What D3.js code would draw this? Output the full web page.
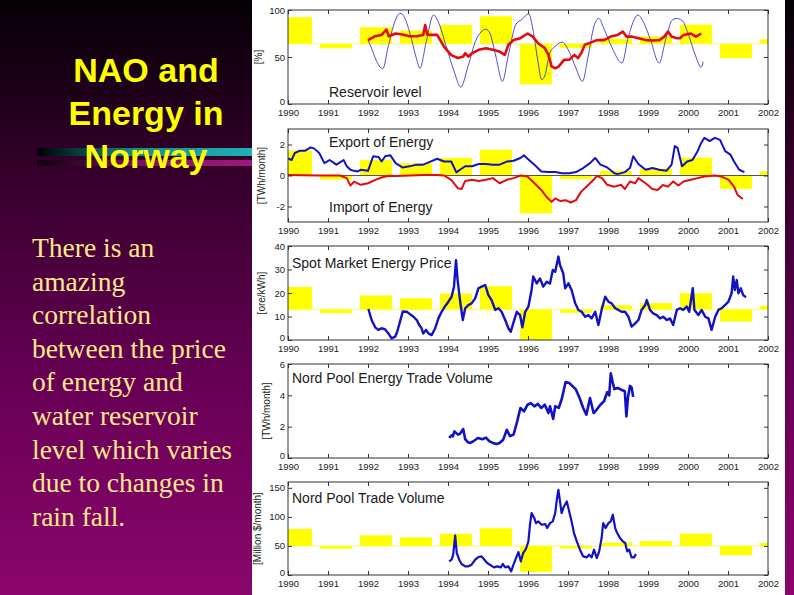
<!DOCTYPE html>
<html>
<head>
<meta charset="utf-8">
<script src="https://cdn.jsdelivr.net/npm/d3@7"></script>
<style>
  html, body { margin: 0; padding: 0; background: #000; }
  svg { display: block; }
</style>
</head>
<body>
<script>
/*
Data.
*/
const yearTicks = [1990, 1991, 1992, 1993, 1994, 1995, 1996, 1997, 1998, 1999, 2000, 2001, 2002];

// winter NAO index, one bar per year (same shape in every panel)
const naoIndex = [2.67, -0.43, 1.67, 1.33, 1.9, 2.77, -4.07, -0.4, 0.5, 0.75, 1.93, -1.43, 0.45];

const titleLines = ["NAO and", "Energy in", "Norway"];
const bodyLines = ["There is an", "amazing", "correlation", "between the price",
  "of energy and", "water reservoir", "level which varies", "due to changes in", "rain fall."];

// reservoir level [%], seasonal curve
const reservoirLevel = [
  [1992.0,68],[1992.1,58],[1992.2,47],[1992.37,37.5],[1992.5,60],[1992.65,85],[1992.8,96.5],[1992.9,93],
  [1993.05,75],[1993.2,50],[1993.3,38],[1993.45,65],[1993.64,94.7],[1993.75,88],[1993.95,62],[1994.15,35],
  [1994.32,18],[1994.5,40],[1994.7,68],[1994.95,79.5],[1995.05,75],[1995.2,50],[1995.36,24],[1995.5,50],
  [1995.7,85],[1995.85,90],[1996.02,96],[1996.12,80],[1996.25,45],[1996.34,26],[1996.42,30],[1996.55,55],
  [1996.7,62],[1996.86,66],[1997.0,58],[1997.2,38],[1997.36,24],[1997.5,50],[1997.65,83],[1997.77,91],
  [1997.9,80],[1998.1,60],[1998.35,43.5],[1998.5,70],[1998.75,94.7],[1998.85,90],[1999.05,70],[1999.28,43.5],
  [1999.45,70],[1999.6,89],[1999.7,91],[1999.85,89],[2000.0,75],[2000.2,50],[2000.33,39],[2000.38,45]
];

// reservoir level [%], running mean
const reservoirMean = [
  [1992.0,68],[1992.17,72],[1992.34,73.5],[1992.46,79],[1992.52,72],[1992.69,75],[1992.86,74],[1993.04,72],
  [1993.21,72],[1993.38,73.5],[1993.43,84],[1993.48,74],[1993.56,73.5],[1993.73,73.5],[1993.9,61],[1994.08,52],
  [1994.25,49],[1994.38,50.5],[1994.43,54],[1994.51,50.5],[1994.6,54],[1994.77,57.6],[1994.95,59.4],[1995.12,57.6],
  [1995.29,55.8],[1995.42,52.3],[1995.51,63],[1995.64,68],[1995.81,70],[1995.99,75],[1996.12,71.7],[1996.25,64.7],
  [1996.42,59.4],[1996.51,52.3],[1996.59,40],[1996.68,38],[1996.77,40],[1996.9,47],[1997.03,47],[1997.16,52.3],
  [1997.25,48.8],[1997.33,54],[1997.42,63],[1997.55,65],[1997.72,68],[1997.9,68],[1998.07,71.7],[1998.24,73.5],
  [1998.37,77],[1998.46,71.7],[1998.59,71.7],[1998.76,70],[1998.94,68],[1999.11,67.5],[1999.28,68],[1999.41,71.7],
  [1999.5,77],[1999.59,71.7],[1999.72,70],[1999.8,70],[1999.89,73.5],[2000.07,75],[2000.2,71.7],[2000.33,75]
];

// export of energy [TWh/month]
const exportEnergy = [
  [1990.0,1.1],[1990.09,1.0],[1990.17,1.45],[1990.3,1.6],[1990.43,1.6],[1990.56,1.8],[1990.65,1.75],[1990.78,1.45],
  [1990.91,0.8],[1991.04,1.0],[1991.13,0.85],[1991.21,0.7],[1991.3,0.85],[1991.39,1.0],[1991.47,0.6],[1991.56,0.37],
  [1991.65,0.3],[1991.74,0.26],[1991.82,0.37],[1992.0,0.3],[1992.13,1.24],[1992.26,1.2],[1992.34,0.9],[1992.43,1.24],
  [1992.56,1.3],[1992.69,0.8],[1992.86,0.52],[1993.04,0.59],[1993.21,0.7],[1993.38,0.7],[1993.56,0.9],[1993.73,1.08],
  [1993.9,0.9],[1994.08,0.9],[1994.21,0.2],[1994.3,0.37],[1994.43,0.6],[1994.6,0.6],[1994.77,0.74],[1994.95,0.74],
  [1995.12,0.7],[1995.29,0.7],[1995.47,0.9],[1995.64,0.95],[1995.81,1.13],[1995.9,1.3],[1995.99,1.08],[1996.16,0.7],
  [1996.33,0.26],[1996.51,0.22],[1996.68,0.22],[1996.85,0.15],[1997.03,0.15],[1997.2,0.22],[1997.38,0.48],[1997.55,0.8],
  [1997.68,1.13],[1997.81,0.7],[1997.98,0.52],[1998.16,0.15],[1998.24,0.09],[1998.42,0.22],[1998.55,0.48],[1998.63,1.24],
  [1998.76,0.74],[1998.94,0.37],[1999.11,0.48],[1999.28,0.37],[1999.46,0.3],[1999.59,0.7],[1999.67,1.9],[1999.74,1.78],
  [1999.85,0.59],[1999.98,0.9],[2000.11,1.0],[2000.24,1.57],[2000.33,2.1],[2000.41,2.43],[2000.54,2.22],[2000.67,2.43],
  [2000.8,2.3],[2000.93,1.57],[2001.06,1.35],[2001.15,0.9],[2001.28,0.37],[2001.41,0.22]
];

// import of energy [TWh/month], drawn negative
const importEnergy = [
  [1990.0,0.04],[1990.78,0.0],[1991.3,0.0],[1991.47,-0.17],[1991.56,-0.65],[1991.65,-0.4],[1991.82,-0.6],[1992.0,-0.5],
  [1992.17,-0.3],[1992.34,-0.13],[1992.52,-0.02],[1992.69,-0.04],[1993.04,0.0],[1993.38,0.04],[1993.73,0.04],[1993.9,0.0],
  [1994.08,-0.28],[1994.25,-0.83],[1994.34,-0.87],[1994.43,-0.35],[1994.6,-0.28],[1994.77,-0.35],[1994.95,-0.28],[1995.12,-0.17],
  [1995.29,-0.5],[1995.47,-0.28],[1995.64,-0.17],[1995.81,0.0],[1995.99,-0.07],[1996.07,-0.28],[1996.2,-0.6],[1996.33,-0.93],
  [1996.46,-1.37],[1996.59,-1.7],[1996.68,-1.48],[1996.81,-1.65],[1996.94,-1.59],[1997.07,-1.74],[1997.2,-1.59],[1997.33,-1.04],
  [1997.46,-0.72],[1997.64,-0.28],[1997.72,-0.02],[1997.85,-0.17],[1997.98,-0.6],[1998.16,-0.72],[1998.33,-0.6],[1998.42,-0.87],
  [1998.55,-0.39],[1998.68,-0.5],[1998.76,-0.17],[1998.94,-0.5],[1999.11,-0.87],[1999.24,-0.93],[1999.37,-0.61],[1999.5,-0.72],
  [1999.63,-0.39],[1999.76,-0.65],[1999.89,-0.39],[2000.07,-0.28],[2000.24,-0.17],[2000.41,-0.07],[2000.67,0.0],[2000.84,-0.07],
  [2001.02,-0.28],[2001.15,-0.72],[2001.24,-1.26],[2001.37,-1.52]
];

// spot market price [ore/kWh]
const spotPrice = [
  [1992.01,13.2],[1992.09,8.5],[1992.18,5.4],[1992.26,4.3],[1992.34,5.0],[1992.43,4.5],[1992.51,2.8],[1992.59,0.7],
  [1992.68,1.4],[1992.73,3.5],[1992.8,7.8],[1992.87,12.1],[1992.97,12],[1993.05,11],[1993.13,10],[1993.22,8.5],
  [1993.28,6.4],[1993.34,5],[1993.38,2.8],[1993.45,4.3],[1993.51,2.8],[1993.59,2.1],[1993.68,5],[1993.76,9.2],
  [1993.84,12],[1993.92,14.2],[1994.01,16.3],[1994.09,18.4],[1994.15,22.7],[1994.2,34],[1994.24,25.5],[1994.3,17],
  [1994.37,8.5],[1994.43,13.5],[1994.51,14.9],[1994.59,15.6],[1994.68,17.7],[1994.76,22],[1994.84,22.7],[1994.93,23.4],
  [1995.01,19.1],[1995.09,17],[1995.18,12.8],[1995.26,13.5],[1995.34,12],[1995.43,8.5],[1995.51,5],[1995.57,3.5],
  [1995.63,7.1],[1995.72,12],[1995.8,10.6],[1995.86,5.4],[1995.93,12],[1996.01,14.2],[1996.09,21.3],[1996.13,27],
  [1996.22,24.1],[1996.3,26.2],[1996.38,22.7],[1996.47,24.8],[1996.55,24],[1996.62,29.8],[1996.68,29],[1996.76,35.5],
  [1996.8,31.9],[1996.88,28.4],[1996.93,22],[1997.01,24.1],[1997.09,21.3],[1997.18,15.6],[1997.26,12.8],[1997.34,12],
  [1997.43,9.9],[1997.51,10.6],[1997.59,9.2],[1997.68,12],[1997.76,6.4],[1997.84,12.8],[1997.93,18.4],[1998.01,16.3],
  [1998.09,15.6],[1998.18,13.5],[1998.26,12.8],[1998.34,12],[1998.43,12],[1998.51,9.9],[1998.59,5.7],[1998.68,7.1],
  [1998.76,8.5],[1998.84,12.8],[1998.93,14.9],[1998.97,17],[1999.05,12.8],[1999.13,11.3],[1999.22,10.6],[1999.3,9.2],
  [1999.38,9.9],[1999.47,8.5],[1999.55,9.2],[1999.63,6.4],[1999.72,12.8],[1999.8,13.5],[1999.88,12.8],[1999.97,14.2],
  [2000.03,12],[2000.12,22],[2000.16,12.8],[2000.26,10.6],[2000.34,12.8],[2000.43,9.9],[2000.51,9.2],[2000.59,4.3],
  [2000.68,9.9],[2000.76,12.8],[2000.84,13.5],[2000.93,14.9],[2001.01,16.3],[2001.09,19.9],[2001.13,27],[2001.17,21.3],
  [2001.22,25.5],[2001.26,19.9],[2001.32,22],[2001.38,19.1],[2001.45,18.2]
];

// Nord Pool energy trade volume [TWh/month]
const tradeVolumeTWh = [
  [1994.03,1.28],[1994.09,1.45],[1994.12,1.38],[1994.16,1.7],[1994.25,1.49],[1994.3,1.55],[1994.38,1.85],[1994.43,1.2],
  [1994.5,1.0],[1994.56,0.96],[1994.65,1.1],[1994.75,1.28],[1994.86,1.2],[1994.95,1.3],[1995.03,1.08],[1995.12,0.96],
  [1995.21,0.89],[1995.29,0.96],[1995.38,1.17],[1995.47,1.8],[1995.55,1.4],[1995.64,1.5],[1995.73,2.34],[1995.81,3.19],
  [1995.9,2.98],[1995.99,3.4],[1996.07,3.5],[1996.16,3.3],[1996.25,3.45],[1996.33,3.19],[1996.42,3.4],[1996.51,2.87],
  [1996.55,3.3],[1996.63,2.5],[1996.68,3.3],[1996.77,3.2],[1996.85,3.83],[1996.94,4.85],[1997.03,4.79],[1997.12,4.57],
  [1997.2,4.36],[1997.29,3.83],[1997.38,3.19],[1997.46,2.77],[1997.55,3.83],[1997.64,2.87],[1997.72,3.09],[1997.81,3.4],
  [1997.9,3.62],[1997.98,4.2],[1998.03,4.0],[1998.07,5.4],[1998.12,4.8],[1998.16,4.4],[1998.24,4.47],[1998.33,4.36],
  [1998.42,4.26],[1998.46,2.65],[1998.5,3.9],[1998.55,4.6],[1998.59,4.5],[1998.63,3.9]
];

// Nord Pool trade volume [Million $/month]
const tradeVolumeUSD = [
  [1994.03,23.5],[1994.09,26.3],[1994.13,35],[1994.18,68],[1994.22,37.8],[1994.28,26.3],[1994.34,18.9],[1994.43,14.9],
  [1994.51,14.9],[1994.59,17.8],[1994.68,26.3],[1994.76,30.9],[1994.84,32],[1994.91,26.3],[1994.98,20.6],[1995.07,16.6],
  [1995.15,13.2],[1995.23,14.9],[1995.32,13.2],[1995.37,18.9],[1995.43,13.2],[1995.51,14.9],[1995.58,6.3],[1995.63,16.6],
  [1995.7,29.2],[1995.76,39.5],[1995.82,23.5],[1995.88,37.8],[1995.95,45.2],[1996.01,57.8],[1996.05,86.5],[1996.09,106.5],
  [1996.15,99],[1996.2,89.3],[1996.26,92.2],[1996.34,86.5],[1996.43,87.6],[1996.48,80.8],[1996.55,89.3],[1996.62,92.2],
  [1996.68,106.5],[1996.72,129.4],[1996.76,146.6],[1996.8,126.6],[1996.84,106.5],[1996.9,118],[1996.97,126.6],[1997.03,109.4],
  [1997.09,92.2],[1997.15,72.2],[1997.22,57.8],[1997.3,43.5],[1997.38,32],[1997.47,30.4],[1997.53,35],[1997.59,30.4],
  [1997.65,43.5],[1997.72,29.2],[1997.78,40.7],[1997.84,63.6],[1997.88,89.3],[1997.94,80.8],[1998.01,89.3],[1998.07,92.2],
  [1998.12,103.7],[1998.18,80.8],[1998.23,72.2],[1998.3,63.6],[1998.37,57.8],[1998.43,55],[1998.48,40.7],[1998.53,43.5],
  [1998.59,30.4],[1998.65,30.4],[1998.7,36]
];

const BLUE = "#1212c4";
const RED = "#e30b0b";

/*
Panel layout: pixel box, value range, NAO bar scaling, series and labels.
*/
const panels = [
  { top: 10, bottom: 104, domain: [0, 100], yTicks: [0, 50, 100], unit: "[%]", unitX: 262,
    bars: { baseline: 64, perIndex: 10.6 },
    series: [
      { data: reservoirLevel, color: "#3a3ad0", width: 0.9, curve: d3.curveMonotoneX },
      { data: reservoirMean, color: RED, width: 2.6 }
    ],
    titles: [{ text: "Reservoir level", x: 329, y: 97 }] },
  { top: 129, bottom: 222, domain: [-3, 3], yTicks: [-2, 0, 2], unit: "[TWh/month]", unitX: 265,
    bars: { baseline: 0, perIndex: 0.6 }, zeroLine: true,
    series: [
      { data: exportEnergy, color: BLUE, width: 2 },
      { data: importEnergy, color: RED, width: 2 }
    ],
    titles: [{ text: "Export of Energy", x: 329, y: 147 }, { text: "Import of Energy", x: 329, y: 212 }] },
  { top: 246, bottom: 340, domain: [0, 40], yTicks: [0, 10, 20, 30, 40], unit: "[ore/kWh]", unitX: 265,
    bars: { baseline: 13, perIndex: 3.57 },
    series: [{ data: spotPrice, color: BLUE, width: 2.4 }],
    titles: [{ text: "Spot Market Energy Price", x: 292, y: 268 }] },
  { top: 364, bottom: 458, domain: [0, 6], yTicks: [0, 2, 4, 6], unit: "[TWh/month]", unitX: 270,
    bars: null,
    series: [{ data: tradeVolumeTWh, color: BLUE, width: 2.6 }],
    titles: [{ text: "Nord Pool Energy Trade Volume", x: 292, y: 383 }] },
  { top: 482, bottom: 575, domain: [0, 160], yTicks: [0, 50, 100, 150], unit: "[Million $/month]", unitX: 261,
    bars: { baseline: 50, perIndex: 11 },
    series: [{ data: tradeVolumeUSD, color: BLUE, width: 2.2 }],
    titles: [{ text: "Nord Pool Trade Volume", x: 292, y: 503 }] }
];

const width = 794;
const height = 595;

const svg = d3.select("body").append("svg")
    .attr("width", width)
    .attr("height", height);

const defs = svg.append("defs");

// slide background: black at top fading into purple
const bg = defs.append("linearGradient").attr("id", "bg")
    .attr("x1", 0).attr("y1", 0).attr("x2", 0).attr("y2", 1);
bg.append("stop").attr("offset", 0).attr("stop-color", "#040004");
bg.append("stop").attr("offset", 0.3).attr("stop-color", "#36002c");
bg.append("stop").attr("offset", 0.65).attr("stop-color", "#680056");
bg.append("stop").attr("offset", 1).attr("stop-color", "#8a066c");

const teal = defs.append("linearGradient").attr("id", "teal");
teal.append("stop").attr("offset", 0).attr("stop-color", "#000000");
teal.append("stop").attr("offset", 0.45).attr("stop-color", "#168a90");
teal.append("stop").attr("offset", 1).attr("stop-color", "#1fb0b4");

const mag = defs.append("linearGradient").attr("id", "mag");
mag.append("stop").attr("offset", 0).attr("stop-color", "#10000c");
mag.append("stop").attr("offset", 0.5).attr("stop-color", "#801066");
mag.append("stop").attr("offset", 1).attr("stop-color", "#a0187e");

svg.append("rect").attr("width", width).attr("height", height).attr("fill", "url(#bg)");

// decorative bars behind the title
svg.append("rect").attr("x", 37).attr("y", 148).attr("width", 215).attr("height", 8).attr("fill", "url(#teal)");
svg.append("rect").attr("x", 37).attr("y", 160).attr("width", 215).attr("height", 6).attr("fill", "url(#mag)");

svg.append("g")
    .selectAll("text")
    .data(titleLines)
    .join("text")
        .attr("x", 146)
        .attr("y", (d, i) => 82 + i * 43)
        .attr("text-anchor", "middle")
        .attr("font-family", "'Liberation Sans', Arial, sans-serif")
        .attr("font-weight", "bold")
        .attr("font-size", 34)
        .attr("fill", "#ffff00")
        .text(d => d);

svg.append("g")
    .selectAll("text")
    .data(bodyLines)
    .join("text")
        .attr("x", 32)
        .attr("y", (d, i) => 257 + i * 33.6)
        .attr("font-family", "'Liberation Serif', 'Times New Roman', serif")
        .attr("font-size", 27.5)
        .attr("fill", "#ffe98a")
        .text(d => d);

// white figure area
svg.append("rect").attr("x", 252).attr("y", 0).attr("width", 533).attr("height", height).attr("fill", "#fff");

const x = d3.scaleLinear().domain([1990, 2002]).range([288, 768]);
const FONT = "'Liberation Sans', Helvetica, Arial, sans-serif";

panels.forEach((p, i) => {
    const y = d3.scaleLinear().domain(p.domain).range([p.bottom, p.top]);
    const g = svg.append("g");

    defs.append("clipPath").attr("id", "clip" + i)
        .append("rect")
            .attr("x", x(1990)).attr("y", p.top)
            .attr("width", x(2002) - x(1990)).attr("height", p.bottom - p.top);

    const plot = g.append("g").attr("clip-path", `url(#clip${i})`);

    // NAO bars round a baseline
    if (p.bars) {
        const b = p.bars;
        plot.append("line")
            .attr("x1", x(1990)).attr("x2", x(2002))
            .attr("y1", y(b.baseline)).attr("y2", y(b.baseline))
            .attr("stroke", "#fbfb9c").attr("stroke-width", 1.5);

        plot.append("g")
            .selectAll("rect")
            .data(naoIndex)
            .join("rect")
                .attr("x", (d, k) => x(Math.max(1990, yearTicks[k] - 0.2)))
                .attr("width", (d, k) => x(Math.min(2002, yearTicks[k] + 0.6)) - x(Math.max(1990, yearTicks[k] - 0.2)))
                .attr("y", d => Math.min(y(b.baseline), y(b.baseline + d * b.perIndex)))
                .attr("height", d => Math.abs(y(b.baseline + d * b.perIndex) - y(b.baseline)))
                .attr("fill", "#ffff00");
    }

    if (p.zeroLine) {
        plot.append("line")
            .attr("x1", x(1990)).attr("x2", x(2002))
            .attr("y1", y(0)).attr("y2", y(0))
            .attr("stroke", "#555").attr("stroke-width", 1);
    }

    // data lines
    p.series.forEach(s => {
        const line = d3.line()
            .x(d => x(d[0]))
            .y(d => y(d[1]))
            .curve(s.curve || d3.curveLinear);
        plot.append("path")
            .datum(s.data)
            .attr("d", line)
            .attr("fill", "none")
            .attr("stroke", s.color)
            .attr("stroke-width", s.width)
            .attr("stroke-linejoin", "round");
    });

    // frame with inward ticks on all four sides
    g.append("rect")
        .attr("x", x(1990)).attr("y", p.top)
        .attr("width", x(2002) - x(1990)).attr("height", p.bottom - p.top)
        .attr("fill", "none").attr("stroke", "#333").attr("stroke-width", 1);

    g.append("g").attr("transform", `translate(0,${p.bottom})`)
        .call(d3.axisBottom(x).tickValues(yearTicks).tickFormat(d3.format("d"))
            .tickSizeInner(-4).tickSizeOuter(0).tickPadding(5));
    g.append("g").attr("transform", `translate(0,${p.top})`)
        .call(d3.axisTop(x).tickValues(yearTicks).tickFormat("")
            .tickSizeInner(-4).tickSizeOuter(0));
    g.append("g").attr("transform", `translate(${x(1990)},0)`)
        .call(d3.axisLeft(y).tickValues(p.yTicks).tickFormat(d => String(d))
            .tickSizeInner(-4).tickSizeOuter(0).tickPadding(3));
    g.append("g").attr("transform", `translate(${x(2002)},0)`)
        .call(d3.axisRight(y).tickValues(p.yTicks).tickFormat("")
            .tickSizeInner(-4).tickSizeOuter(0));

    g.selectAll(".domain").remove();
    g.selectAll(".tick line").attr("stroke", "#333");
    g.selectAll(".tick text")
        .attr("font-family", FONT)
        .attr("font-size", 9.5)
        .attr("fill", "#222");
    // lift the lowest y label a little so it clears the year labels
    g.selectAll(".tick text").filter(d => d === p.domain[0]).attr("dy", "0.1em");

    // unit label
    g.append("text")
        .attr("transform", `translate(${p.unitX},${(p.top + p.bottom) / 2}) rotate(-90)`)
        .attr("text-anchor", "middle")
        .attr("font-family", FONT)
        .attr("font-size", 10)
        .attr("fill", "#222")
        .text(p.unit);

    // panel titles
    g.selectAll("text.title")
        .data(p.titles)
        .join("text")
            .attr("class", "title")
            .attr("x", d => d.x)
            .attr("y", d => d.y)
            .attr("font-family", FONT)
            .attr("font-size", 14)
            .attr("fill", "#1a1a1a")
            .text(d => d.text);
});
</script>
</body>
</html>
